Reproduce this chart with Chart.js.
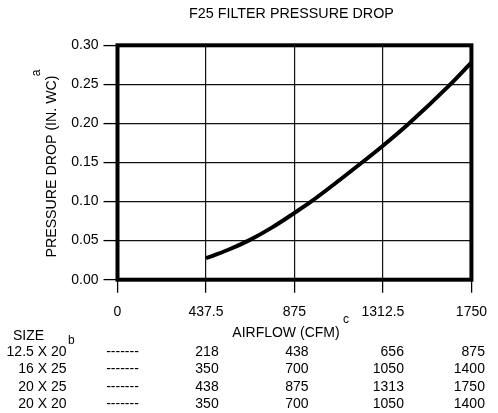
<!DOCTYPE html>
<html><head><meta charset="utf-8">
<script src="https://cdn.jsdelivr.net/npm/chart.js@4/dist/chart.umd.min.js"></script>
<style>html,body{margin:0;padding:0;background:#fff}#wrap{width:498px;height:413px;position:relative}</style>
</head><body><div id="wrap"><canvas id="c"></canvas></div>
<script>
// ---- data ----
const chartTitle = 'F25 FILTER PRESSURE DROP';
const xAxisTitle = 'AIRFLOW (CFM)';
const yAxisTitle = 'PRESSURE DROP (IN. WC)';
const xTicks = [0, 437.5, 875, 1312.5, 1750];
const yTicks = [0, 0.05, 0.10, 0.15, 0.20, 0.25, 0.30];
const airflow = [437.5, 545, 655, 765, 875, 955, 1204, 1312.5, 1437, 1642, 1750];
const pressureDrop = [0.0275, 0.038, 0.051, 0.067, 0.0855, 0.0995, 0.149, 0.1715, 0.199, 0.249, 0.278];
const sizeHeader = 'SIZE';
const filterSizes = ['12.5 X 20', '16 X 25', '20 X 25', '20 X 20'];
const sizeAirflow = [
  ['-------', '218', '438', '656', '875'],
  ['-------', '350', '700', '1050', '1400'],
  ['-------', '438', '875', '1313', '1750'],
  ['-------', '350', '700', '1050', '1400']
];
const notes = { y: 'a', size: 'b', x: 'c' };

// ---- layout / style ----
const FONT = '"Liberation Sans", Arial, Helvetica, sans-serif';
const colAlign = ['center', 'center', 'center', 'right', 'right'];
const colOffset = [5, 1, 2.5, 21, 13.5];

const textPlugin = {
  id: 'texts',
  afterDraw(chart) {
    const ctx = chart.ctx;
    const a = chart.chartArea;
    const xs = chart.scales.x;
    ctx.save();
    // frame
    ctx.strokeStyle = '#000';
    ctx.lineWidth = 4;
    ctx.strokeRect(a.left, a.top, a.right - a.left, a.bottom - a.top);

    ctx.fillStyle = '#000';
    ctx.textBaseline = 'alphabetic';
    // chart title
    ctx.font = '14.3px ' + FONT;
    ctx.textAlign = 'center';
    ctx.fillText(chartTitle, (a.left + a.right) / 2 - 3, 18.3);
    // x axis title
    ctx.font = '14px ' + FONT;
    ctx.fillText(xAxisTitle, (a.left + a.right) / 2 - 8.5, a.bottom + 57);
    ctx.font = '12px ' + FONT;
    ctx.fillText(notes.x, (a.left + a.right) / 2 + 51.5, a.bottom + 43.6);
    // y axis title (rotated)
    ctx.save();
    ctx.translate(56.3, (a.top + a.bottom) / 2 + 4);
    ctx.rotate(-Math.PI / 2);
    ctx.font = '14.2px ' + FONT;
    ctx.textAlign = 'center';
    ctx.fillText(yAxisTitle, 0, 0);
    ctx.font = '12px ' + FONT;
    ctx.fillText(notes.y, 93.5, -16);
    ctx.restore();

    // size table
    ctx.font = '14px ' + FONT;
    ctx.textAlign = 'left';
    ctx.fillText(sizeHeader, 13, a.bottom + 60.3);
    ctx.font = '12px ' + FONT;
    ctx.textAlign = 'center';
    ctx.fillText(notes.size, 71.3, a.bottom + 64.3);
    ctx.font = '14px ' + FONT;
    filterSizes.forEach((s, i) => {
      const yb = a.bottom + 76.3 + i * 17.4;
      ctx.textAlign = 'right';
      ctx.fillText(s, 66.5, yb);
      sizeAirflow[i].forEach((v, j) => {
        ctx.textAlign = colAlign[j];
        ctx.fillText(v, xs.getPixelForValue(xTicks[j]) + colOffset[j], yb);
      });
    });
    ctx.restore();
  }
};

new Chart(document.getElementById('c'), {
  type: 'line',
  data: {
    datasets: [{
      data: airflow.map((x, i) => ({ x: x, y: pressureDrop[i] })),
      borderColor: '#000',
      borderWidth: 4,
      pointRadius: 0,
      cubicInterpolationMode: 'monotone',
      fill: false
    }]
  },
  options: {
    responsive: true,
    maintainAspectRatio: false,
    animation: false,
    layout: { padding: { left: 0, right: 18.7, top: 45.3, bottom: 0 } },
    plugins: { legend: { display: false }, tooltip: { enabled: false }, title: { display: false } },
    scales: {
      x: {
        type: 'linear', min: 0, max: 1750,
        afterBuildTicks: s => { s.ticks = xTicks.map(v => ({ value: v })); },
        afterFit: s => { s.height = 133.3; },
        ticks: { callback: v => String(v), color: '#000', font: { size: 14, family: FONT }, padding: 11, maxRotation: 0, autoSkip: false },
        grid: { color: '#111', lineWidth: 1.2, tickLength: 13, tickColor: '#000', tickWidth: 1.3 },
        border: { display: false }
      },
      y: {
        type: 'linear', min: 0, max: 0.3,
        afterBuildTicks: s => { s.ticks = yTicks.map(v => ({ value: v })); },
        afterFit: s => { s.width = 117.5; },
        ticks: { callback: v => v.toFixed(2), color: '#000', font: { size: 14, family: FONT }, padding: 5, autoSkip: false },
        grid: { color: '#111', lineWidth: 1.2, tickLength: 14, tickColor: '#000', tickWidth: 1.3 },
        border: { display: false }
      }
    }
  },
  plugins: [textPlugin]
});
</script>
</body></html>
